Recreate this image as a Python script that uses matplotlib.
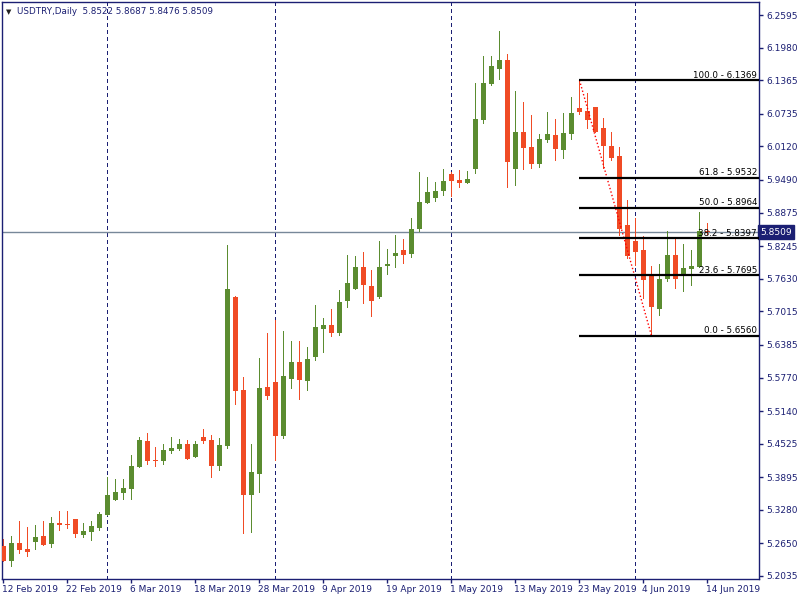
import numpy as np
import matplotlib
matplotlib.use("Agg")
import matplotlib.pyplot as plt
import matplotlib.transforms as mtransforms

# USDTRY daily candles, 12 Feb 2019 .. 14 Jun 2019
opens = [5.2600, 5.2323, 5.2656, 5.2543, 5.2680, 5.2788, 5.2643, 5.3032, 5.3014, 5.3108,
         5.2807, 5.2869, 5.2944, 5.3183, 5.3465, 5.3597, 5.3673, 5.4087, 5.4576, 5.4218,
         5.4200, 5.4388, 5.4425, 5.4520, 5.4275, 5.4651, 5.4595, 5.4105, 5.4482, 5.7287,
         5.5536, 5.3560, 5.3955, 5.5593, 5.5687, 5.4670, 5.5743, 5.6063, 5.5706, 5.6157,
         5.6684, 5.6760, 5.6609, 5.7211, 5.7437, 5.7851, 5.7494, 5.7287, 5.7870, 5.8058,
         5.8171, 5.8096, 5.8567, 5.9056, 5.9150, 5.9282, 5.9602, 5.9489, 5.9433, 5.9702,
         6.0624, 6.1302, 6.1584, 6.1748, 5.9702, 6.0393, 6.0116, 5.9796, 6.0248, 6.0336,
         6.0059, 6.0361, 6.0844, 6.0788, 6.0863, 6.0468, 6.0135, 5.9947, 5.8642, 5.8347,
         5.8177, 5.7725, 5.7066, 5.7631, 5.8083, 5.7688, 5.7819, 5.7857, 5.8522]
highs = [5.2737, 5.2788, 5.3070, 5.2957, 5.2995, 5.3070, 5.3145, 5.3258, 5.3258, 5.3115,
         5.3032, 5.3070, 5.3240, 5.3898, 5.3861, 5.3861, 5.4312, 5.4651, 5.4727, 5.4463,
         5.4520, 5.4651, 5.4614, 5.4595, 5.4576, 5.4802, 5.4689, 5.4633, 5.8266, 5.7306,
         5.5781, 5.4520, 5.6138, 5.6609, 5.6854, 5.6647, 5.6458, 5.6458, 5.6346, 5.7136,
         5.6891, 5.7061, 5.7418, 5.8077, 5.8058, 5.8134, 5.7795, 5.8341, 5.8190, 5.8454,
         5.8379, 5.8774, 5.9640, 5.9546, 5.9451, 5.9696, 5.9640, 5.9677, 5.9659, 6.1315,
         6.1823, 6.1823, 6.2294, 6.1861, 6.1164, 6.0957, 6.0713, 6.0355, 6.0769, 6.0637,
         6.0750, 6.1052, 6.1369, 6.1127, 6.0870, 6.0656, 6.0393, 6.0116, 5.9113, 5.8774,
         5.8441, 5.7876, 5.7914, 5.8535, 5.8422, 5.8290, 5.8177, 5.8887, 5.8687]
lows = [5.2317, 5.2229, 5.2473, 5.2417, 5.2549, 5.2624, 5.2586, 5.2906, 5.2944, 5.2775,
        5.2769, 5.2718, 5.2906, 5.3183, 5.3465, 5.3484, 5.3484, 5.4087, 5.4143, 5.4105,
        5.4143, 5.4350, 5.4407, 5.4237, 5.4275, 5.4538, 5.3898, 5.4030, 5.4444, 5.5273,
        5.2844, 5.2869, 5.3622, 5.5367, 5.4218, 5.4633, 5.5574, 5.5367, 5.5536, 5.6101,
        5.6251, 5.6553, 5.6571, 5.7098, 5.7437, 5.7174, 5.6929, 5.7268, 5.7720, 5.7851,
        5.7927, 5.8040, 5.8529, 5.9056, 5.9094, 5.9207, 5.9188, 5.9357, 5.9433, 5.9627,
        6.0568, 6.1283, 6.1396, 5.9363, 5.9401, 5.9702, 5.9721, 5.9739, 6.0210, 5.9871,
        5.9909, 6.0267, 6.0737, 6.0474, 6.0398, 5.9721, 5.9871, 5.8459, 5.8026, 5.7889,
        5.7274, 5.6560, 5.6953, 5.7593, 5.7462, 5.7405, 5.7518, 5.7857, 5.8476]
closes = [5.2323, 5.2656, 5.2530, 5.2492, 5.2769, 5.2624, 5.3032, 5.2995, 5.2995, 5.2831,
          5.2882, 5.2976, 5.3202, 5.3560, 5.3616, 5.3691, 5.4105, 5.4595, 5.4200, 5.4200,
          5.4407, 5.4444, 5.4520, 5.4237, 5.4520, 5.4576, 5.4105, 5.4501, 5.7437, 5.5517,
          5.3560, 5.3992, 5.5574, 5.5423, 5.4670, 5.5800, 5.6063, 5.5724, 5.6120, 5.6722,
          5.6760, 5.6609, 5.7193, 5.7550, 5.7851, 5.7513, 5.7211, 5.7851, 5.7908, 5.8115,
          5.8077, 5.8567, 5.9075, 5.9263, 5.9282, 5.9470, 5.9470, 5.9433, 5.9508, 6.0637,
          6.1315, 6.1635, 6.1748, 5.9834, 6.0393, 6.0097, 5.9796, 6.0267, 6.0355, 6.0078,
          6.0374, 6.0750, 6.0769, 6.0624, 6.0398, 6.0135, 5.9909, 5.8572, 5.8064, 5.8139,
          5.7612, 5.7104, 5.7631, 5.8083, 5.7631, 5.7838, 5.7876, 5.8520, 5.8509]

date_labels = ["12 Feb 2019", "22 Feb 2019", "6 Mar 2019", "18 Mar 2019", "28 Mar 2019",
               "9 Apr 2019", "19 Apr 2019", "1 May 2019", "13 May 2019", "23 May 2019",
               "4 Jun 2019", "14 Jun 2019"]
date_label_bars = [0, 8, 16, 24, 32, 40, 48, 56, 64, 72, 80, 88]
month_start_bars = [13, 34, 56, 79]
price_ticks = [6.2595, 6.1980, 6.1365, 6.0735, 6.0120, 5.9490, 5.8875, 5.8245, 5.7630,
               5.7015, 5.6385, 5.5770, 5.5140, 5.4525, 5.3895, 5.3280, 5.2650, 5.2035]

# Fibonacci retracement from the 23 May high to the 5 Jun low
fib_start_bar, fib_end_bar = 72, 81
fib_high, fib_low = 6.1369, 5.6560
fib_levels = [100.0, 61.8, 50.0, 38.2, 23.6, 0.0]
fib_prices = [6.1369, 5.9532, 5.8964, 5.8397, 5.7695, 5.6560]

last_price = 5.8509

navy = "#1b1f73"
up_col = "#5b8c30"
dn_col = "#f04b25"

fig = plt.figure(figsize=(8, 6), dpi=100)
ax = fig.add_axes([2 / 800, 21 / 600, 757 / 800, 577 / 600])
ax.set_xlim(-0.1875, 94.44)
ax.set_ylim(5.1978, 6.2840)

x = np.arange(len(opens))
o = np.array(opens); h = np.array(highs); l = np.array(lows); c = np.array(closes)
cols = [up_col if cc >= oo else dn_col for oo, cc in zip(o, c)]

# separators and price line behind the candles
for b in month_start_bars:
    ax.axvline(b, color=navy, lw=0.72, ls=(0, (4, 3)), zorder=1, antialiased=False)
ax.axhline(last_price, color="#778899", lw=1.0, zorder=1)

ax.vlines(x, l, h, colors=cols, lw=0.72, zorder=2, antialiased=False)
body_low = np.minimum(o, c)
body_h = np.maximum(np.abs(c - o), 0.0016)
ax.bar(x, body_h, bottom=body_low, width=0.62, color=cols, lw=0, zorder=3)

# fibonacci object
ax.plot([fib_start_bar, fib_end_bar], [fib_high, fib_low], color="red", lw=1.0,
        ls=(0, (1, 1.6)), zorder=4)
for lev, p in zip(fib_levels, fib_prices):
    ax.plot([fib_start_bar, 94.44], [p, p], color="black", lw=1.6, zorder=4,
            solid_capstyle="butt")
    ax.text(94.2, p + 0.0008, "%.1f - %.4f" % (lev, p), ha="right", va="bottom",
            fontsize=6.3, color="black", zorder=5)

for s in ax.spines.values():
    s.set_color(navy)
    s.set_linewidth(1.0)

ax.yaxis.tick_right()
ax.set_yticks(price_ticks)
ax.set_yticklabels(["%.4f" % t for t in price_ticks])
ax.tick_params(axis="y", direction="out", length=3, width=1, color=navy,
               labelcolor=navy, labelsize=6.5, pad=2)
ax.set_xticks(date_label_bars)
ax.set_xticklabels(date_labels, ha="left")
ax.tick_params(axis="x", direction="out", length=3, width=1, color=navy,
               labelcolor=navy, labelsize=6.5, pad=1)
offset = mtransforms.ScaledTranslation(-1 / 100, 0, fig.dpi_scale_trans)
for lab in ax.get_xticklabels():
    lab.set_transform(lab.get_transform() + offset)

# last price box on the price scale
ax.text(1.0015, last_price, "%.4f" % last_price, transform=ax.get_yaxis_transform(),
        ha="left", va="center", fontsize=6.5, color="white",
        bbox=dict(boxstyle="square,pad=0.25", fc=navy, ec=navy), clip_on=False)

# chart header
fig.text(6 / 800, 1 - 12 / 600, "\u25bc", fontsize=5, color="#222222", va="center")
fig.text(17 / 800, 1 - 12 / 600, "USDTRY,Daily  5.8522 5.8687 5.8476 5.8509",
         fontsize=6.3, color=navy, va="center")

fig.savefig("out.png", dpi=100, facecolor="white")
